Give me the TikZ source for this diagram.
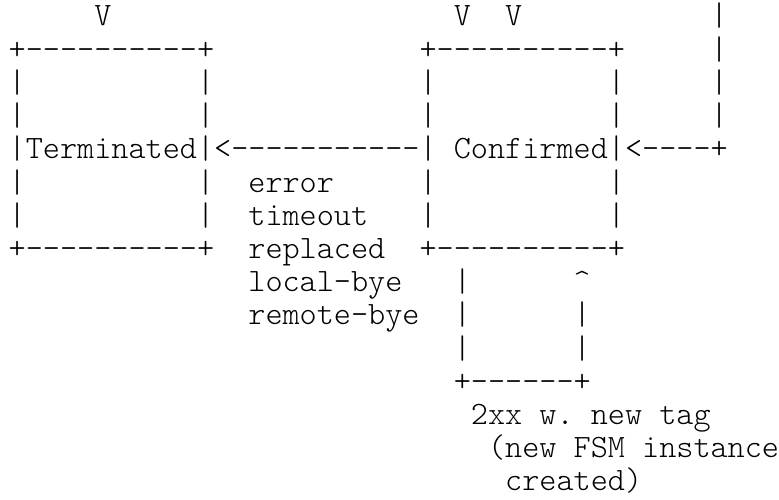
\documentclass[tikz,border=0pt]{standalone}
\usepackage{fontspec}
\setmonofont{Latin Modern Mono Light}
\tikzset{
  ascii/.style={anchor=base west, inner sep=0pt, outer sep=0pt, text=black,
    font=\ttfamily\frenchspacing\fontsize{32.61pt}{33.2pt}\selectfont}
}
% place a run of characters at a given column/row of the character grid
\newcommand{\asciicell}[4]{%
  \node[ascii] (#1) at ({8.7pt+#2*17.12pt},{473pt-#3*33.2pt}) {#4};}
\begin{document}
\begin{tikzpicture}
\fill[white] (0,0) rectangle (779pt,499pt);
\useasboundingbox (0,0) rectangle (779pt,499pt);
% incoming transitions
\asciicell{inT}{5}{0}{V}
\asciicell{inCa}{26}{0}{V}
\asciicell{inCb}{29}{0}{V}
\asciicell{loopA}{41}{0}{|}
% top edges of the two state boxes
\asciicell{termTop}{0}{1}{+----------+}
\asciicell{confTop}{24}{1}{+----------+}
\asciicell{loopB}{41}{1}{|}
% box sides
\asciicell{termLa}{0}{2}{|}
\asciicell{termRa}{11}{2}{|}
\asciicell{confLa}{24}{2}{|}
\asciicell{confRa}{35}{2}{|}
\asciicell{loopC}{41}{2}{|}
\asciicell{termLb}{0}{3}{|}
\asciicell{termRb}{11}{3}{|}
\asciicell{confLb}{24}{3}{|}
\asciicell{confRb}{35}{3}{|}
\asciicell{loopD}{41}{3}{|}
% state names and the arrows between them
\asciicell{stateRow}{0}{4}{|Terminated|<-----------| Confirmed|<----+}
% transition labels
\asciicell{termLc}{0}{5}{|}
\asciicell{termRc}{11}{5}{|}
\asciicell{lblError}{14}{5}{error}
\asciicell{confLc}{24}{5}{|}
\asciicell{confRc}{35}{5}{|}
\asciicell{termLd}{0}{6}{|}
\asciicell{termRd}{11}{6}{|}
\asciicell{lblTimeout}{14}{6}{timeout}
\asciicell{confLd}{24}{6}{|}
\asciicell{confRd}{35}{6}{|}
\asciicell{termBot}{0}{7}{+----------+}
\asciicell{lblReplaced}{14}{7}{replaced}
\asciicell{confBot}{24}{7}{+----------+}
\asciicell{lblLocal}{14}{8}{local-bye}
\asciicell{selfLa}{26}{8}{|}
\asciicell{selfRa}{33}{8}{\textasciicircum}
\asciicell{lblRemote}{14}{9}{remote-bye}
\asciicell{selfLb}{26}{9}{|}
\asciicell{selfRb}{33}{9}{|}
\asciicell{selfLc}{26}{10}{|}
\asciicell{selfRc}{33}{10}{|}
\asciicell{selfBot}{26}{11}{+------+}
% self-transition label
\asciicell{lblNewTag}{27}{12}{2xx w. new tag}
\asciicell{lblFsm}{28}{13}{(new FSM instance}
\asciicell{lblCreated}{29}{14}{created)}
\end{tikzpicture}
\end{document}
